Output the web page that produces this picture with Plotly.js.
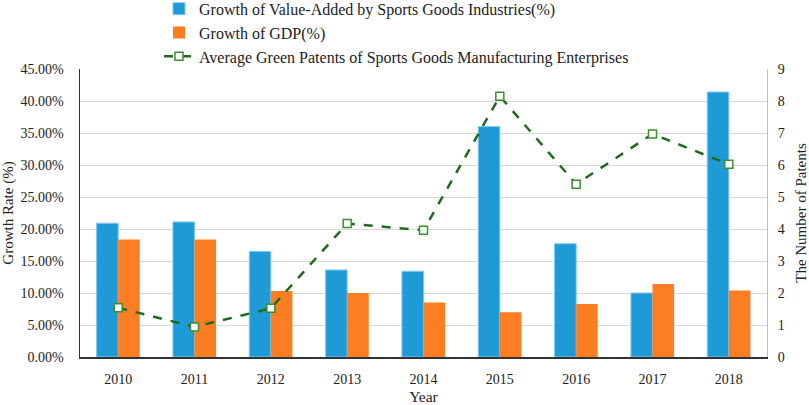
<!DOCTYPE html>
<html><head><meta charset="utf-8">
<script src="https://cdn.plot.ly/plotly-3.0.1.min.js"></script>
<style>html,body{margin:0;padding:0;background:#fff}#chart{width:809px;height:405px}</style>
</head><body><div id="chart"></div>
<script>
var years = ['2010','2011','2012','2013','2014','2015','2016','2017','2018'];
var valueAddedGrowth = [20.9, 21.1, 16.5, 13.6, 13.4, 36.0, 17.7, 10.0, 41.4];
var gdpGrowth = [18.35, 18.35, 10.3, 10.0, 8.5, 7.0, 8.3, 11.4, 10.4];
var greenPatents = [1.54, 0.94, 1.52, 4.17, 3.96, 8.15, 5.40, 6.97, 6.02];
var leftTicks = [0,5,10,15,20,25,30,35,40,45];
var leftTickText = leftTicks.map(function(v){return v.toFixed(2)+'%';});

var font = 'Liberation Serif, DejaVu Serif, serif';
var traces = [
  {type:'bar', x:years, y:valueAddedGrowth, name:'Growth of Value-Added by Sports Goods Industries(%)',
   marker:{color:'#1e9bd7', line:{color:'#7fc8ee', width:1}}, legendgroup:'a'},
  {type:'bar', x:years, y:gdpGrowth, name:'Growth of GDP(%)',
   marker:{color:'#fd7e22', line:{color:'#fd7e22', width:0}}, legendgroup:'b'},
  {type:'scatter', mode:'lines+markers', x:years, y:greenPatents, yaxis:'y2',
   name:'Average Green Patents of Sports Goods Manufacturing Enterprises',
   line:{color:'#1f6a1f', width:2.5, dash:'dash'},
   marker:{symbol:'square', size:8, color:'#ffffff', line:{color:'#3b8f2c', width:1.5}}, legendgroup:'c'}
];
var layout = {
  width:809, height:405,
  margin:{l:80, r:42, t:69, b:48, autoexpand:false},
  paper_bgcolor:'#fff', plot_bgcolor:'#fff',
  font:{family:font, size:14, color:'#222'},
  barmode:'group', bargap:0.435, bargroupgap:0,
  showlegend:true,
  legend:{x:0.115, y:1.268, xanchor:'left', yanchor:'top', orientation:'v',
          font:{family:font, size:16, color:'#222'}, tracegroupgap:0, bgcolor:'rgba(0,0,0,0)'},
  xaxis:{type:'category', range:[-0.5,8.5], showgrid:false, showline:true, linecolor:'#333', linewidth:1.5,
         ticks:'', tickfont:{size:14}, ticklabelstandoff:9, title:{text:'Year', font:{size:15.5}, standoff:8}},
  yaxis:{range:[0,45], tickvals:leftTicks, ticktext:leftTickText, showgrid:true, gridcolor:'#d9d9d9', gridwidth:1,
         showline:true, linecolor:'#333', linewidth:1.5, zeroline:false, ticks:'', tickfont:{size:14},
         ticklabelstandoff:12, title:{text:'Growth Rate (%)', font:{size:15}, standoff:8}},
  yaxis2:{overlaying:'y', side:'right', range:[0,9], dtick:1, showgrid:false, showline:true,
          linecolor:'#bfbfbf', linewidth:1, zeroline:false, ticks:'', tickfont:{size:14},
          ticklabelstandoff:7, title:{text:'The Number of Patents', font:{size:15}, standoff:12}}
};
Plotly.newPlot('chart', traces, layout, {displayModeBar:false, staticPlot:true});
</script></body></html>
